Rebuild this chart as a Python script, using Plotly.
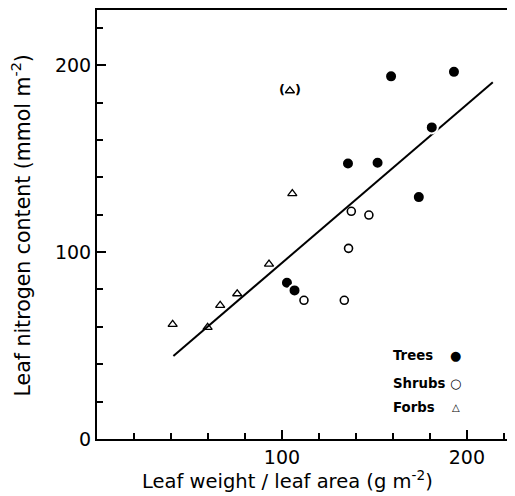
import plotly.graph_objects as go

# ---- data ----
trees_x = [159, 193, 181, 135.7, 151.7, 174, 102.7, 106.8]
trees_y = [194, 196.4, 166.7, 147.4, 147.8, 129.4, 83.6, 79.5]

shrubs_x = [137.5, 147, 136, 111.9, 133.7]
shrubs_y = [121.8, 119.8, 102, 74.2, 74.2]

forbs_x = [105.6, 93, 40.9, 59.8, 66.6, 75.8]
forbs_y = [131.3, 93.6, 61.3, 59.7, 71.5, 77.7]

forb_outlier_x = [104.3]
forb_outlier_y = [186.3]

fit_x = [41.3, 214]
fit_y = [44.4, 190.9]

x_ticks = [100, 200]
y_ticks = [0, 100, 200]
minor_ticks = [20, 40, 60, 80, 120, 140, 160, 180, 220]

legend_labels = ["Trees", "Shrubs", "Forbs"]
legend_symbols = ["\u25CF", "\u25CB", "\u25B3"]
legend_symbol_sizes = [13, 13, 10]

FONT = "DejaVu Sans"

fig = go.Figure()

fig.add_trace(go.Scatter(x=fit_x, y=fit_y, mode="lines",
                         line=dict(color="black", width=2), showlegend=False))

fig.add_trace(go.Scatter(x=trees_x, y=trees_y, mode="markers",
                         marker=dict(symbol="circle", size=12, color="black",
                                     line=dict(color="white", width=2)),
                         showlegend=False))
fig.add_trace(go.Scatter(x=shrubs_x, y=shrubs_y, mode="markers",
                         marker=dict(symbol="circle-open", size=8, color="black",
                                     line=dict(width=1.6)),
                         showlegend=False))
fig.add_trace(go.Scatter(x=forbs_x, y=forbs_y, mode="markers",
                         marker=dict(symbol="triangle-up-open", size=8, color="black",
                                     line=dict(width=1.3)),
                         showlegend=False))
fig.add_trace(go.Scatter(x=forb_outlier_x, y=forb_outlier_y, mode="markers",
                         marker=dict(symbol="triangle-up-open", size=8, color="black",
                                     line=dict(width=1.3)),
                         showlegend=False))

# parentheses around the outlier forb
for txt, shift in (("(", -8), (")", 8)):
    fig.add_annotation(x=forb_outlier_x[0], y=forb_outlier_y[0], text="<b>" + txt + "</b>",
                       showarrow=False, xshift=shift, yshift=1,
                       font=dict(family=FONT, size=13, color="black"))

# legend as text, symbol to the right
leg_y = [0.1935, 0.1305, 0.0723]
for lab, sym, ssz, yy in zip(legend_labels, legend_symbols, legend_symbol_sizes, leg_y):
    fig.add_annotation(xref="paper", yref="paper", x=0.704, y=yy, text="<b>" + lab + "</b>",
                       showarrow=False, xanchor="left", yanchor="middle",
                       font=dict(family=FONT, size=13.3, color="black"))
    fig.add_annotation(xref="paper", yref="paper", x=0.858, y=yy, text=sym,
                       showarrow=False, xanchor="center", yanchor="middle",
                       font=dict(family=FONT, size=ssz, color="black"))

# axis titles
fig.add_annotation(xref="paper", yref="paper", x=0.455, y=-0.0956,
                   text="Leaf weight / leaf area (g m<sup>-2</sup>)", showarrow=False,
                   xanchor="center", yanchor="middle",
                   font=dict(family=FONT, size=19.5, color="black"))
fig.add_annotation(xref="paper", yref="paper", x=-0.18, y=0.497,
                   text="Leaf nitrogen content (mmol m<sup>-2</sup>)", showarrow=False,
                   textangle=-90, xanchor="center", yanchor="middle",
                   font=dict(family=FONT, size=20.5, color="black"))

# the page adds an 8px body margin, so the figure is sized/offset for it
fig.update_layout(
    width=507, height=488,
    margin=dict(l=89, r=0, t=2, b=57, autoexpand=False),
    paper_bgcolor="white", plot_bgcolor="white",
    font=dict(family=FONT, color="black"),
    showlegend=False,
)

fig.update_xaxes(
    range=[0, 226], showgrid=False, zeroline=False, automargin=False,
    showline=True, linecolor="black", linewidth=2, mirror=True,
    tickmode="array", tickvals=x_ticks, ticks="inside", ticklen=9, tickwidth=1.5,
    tickcolor="black",
    minor=dict(tickmode="array", tickvals=minor_ticks, ticks="inside", ticklen=6,
               tickwidth=1.5, tickcolor="black"),
    tickfont=dict(family=FONT, size=19, color="black"),
)
fig.update_yaxes(
    range=[0, 229.5], showgrid=False, zeroline=False, automargin=False,
    showline=True, linecolor="black", linewidth=2, mirror=False,
    tickmode="array", tickvals=y_ticks, ticks="inside", ticklen=9, tickwidth=1.5,
    tickcolor="black",
    minor=dict(tickmode="array", tickvals=minor_ticks, ticks="inside", ticklen=6,
               tickwidth=1.5, tickcolor="black"),
    tickfont=dict(family=FONT, size=19, color="black"),
)

fig.write_html("out.html")
